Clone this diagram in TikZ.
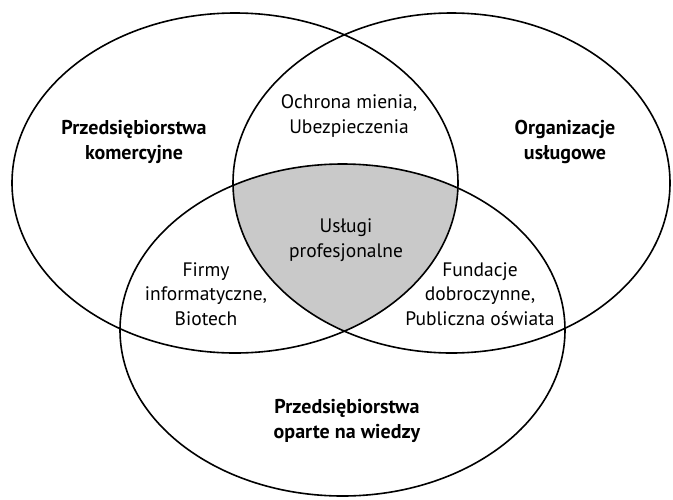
\documentclass[tikz,border=0pt]{standalone}
\usepackage{fontspec}
\setmainfont{PT Sans}
\begin{document}
\begin{tikzpicture}[x=1pt,y=-1pt,
  setline/.style={line width=1.6pt,black},
  lbl/.style={align=center,font=\fontsize{19.5}{24.5}\selectfont,inner sep=0pt},
  bold lbl/.style={lbl,font=\fontsize{20}{24.5}\selectfont\bfseries}]
\useasboundingbox (0,0) rectangle (673,499);

% the three sets
\def\setA{(235,183) ellipse [x radius=223pt, y radius=170pt]}
\def\setB{(451.5,183) ellipse [x radius=218.5pt, y radius=170pt]}
\def\setC{(342.5,330) ellipse [x radius=222.5pt, y radius=166pt]}

% common part of all three sets
\begin{scope}
  \clip \setA;
  \clip \setB;
  \fill[black!21] \setC;
\end{scope}

\draw[setline] \setA;
\draw[setline] \setB;
\draw[setline] \setC;

\node[bold lbl] (kom) at (134,142) {Przedsiębiorstwa\\komercyjne};
\node[lbl] (och) at (349,116) {Ochrona mienia,\\Ubezpieczenia};
\node[bold lbl] (org) at (565,142) {Organizacje\\usługowe};
\node[lbl] (prof) at (346,240) {Usługi\\profesjonalne};
\node[lbl] (firmy) at (206,294) {Firmy\\informatyczne,\\Biotech};
\node[lbl] (fund) at (480,294) {Fundacje\\dobroczynne,\\Publiczna oświata};
\node[bold lbl] (wiedza) at (347,421) {Przedsiębiorstwa\\oparte na wiedzy};
\end{tikzpicture}
\end{document}
